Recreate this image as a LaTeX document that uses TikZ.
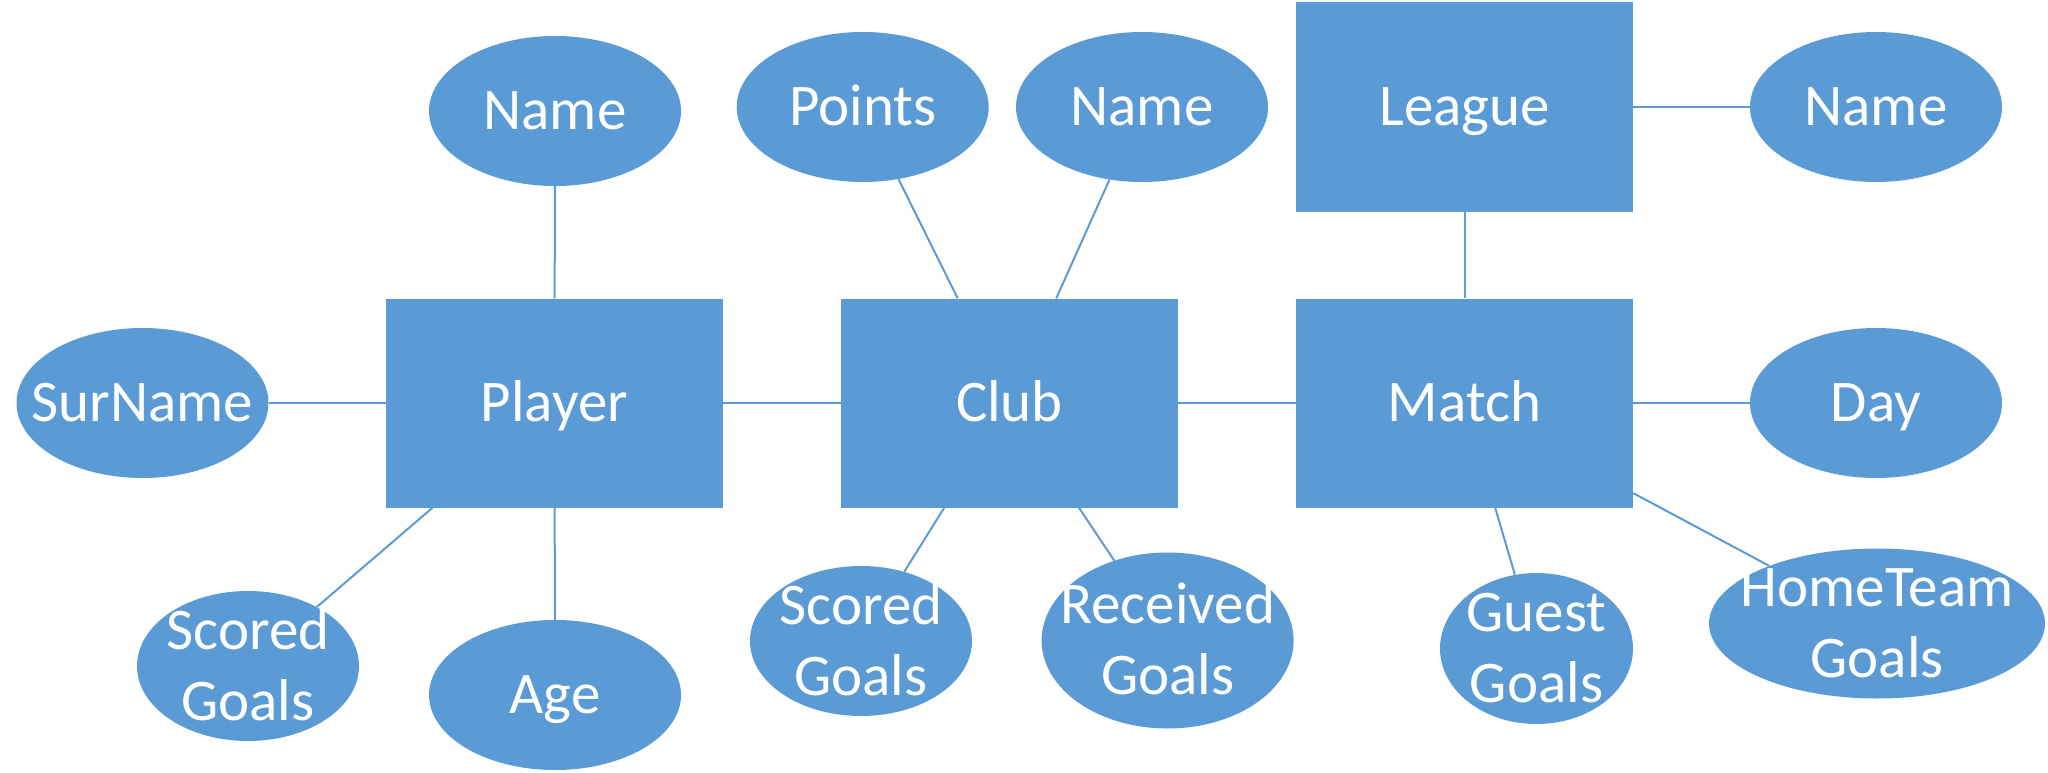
\documentclass[tikz,border=0pt]{standalone}
\usepackage{fontspec}
\setmainfont{Carlito}
\usetikzlibrary{shapes.geometric}
\definecolor{erblue}{HTML}{5B9BD5}
\newcommand\oneL[1]{\makebox[0pt]{\raisebox{-0.316em}[0pt][0pt]{#1}}}
\newcommand\twoL[2]{\makebox[0pt]{\raisebox{16.85pt}[0pt][0pt]{\begin{tabular}[t]{@{}c@{}}#1\\#2\end{tabular}}}}
\tikzset{
  ent/.style={rectangle, fill=erblue, inner sep=0pt, minimum width=337pt, minimum height=209pt},
  attr/.style={ellipse, fill=erblue, inner sep=0pt, minimum width=252pt, minimum height=150pt},
  conn/.style={draw=erblue, line width=2pt},
}
\begin{document}
\begin{tikzpicture}[x=1pt, y=-1pt, every node/.style={text=white, font=\fontsize{59pt}{71pt}\selectfont}]
\useasboundingbox (0,0) rectangle (2048,773);
% entities
\node[ent] (player) at (554.5,403) {\oneL{Player}};
\node[ent] (club)   at (1009.5,403) {\oneL{Club}};
\node[ent] (match)  at (1464.5,403) {\oneL{Match}};
\node[ent, minimum height=210pt] (league) at (1464.5,107) {\oneL{League}};
% attributes
\node[attr] (pname)   at (555,111)  {\oneL{Name}};
\node[attr] (surname) at (142.5,403) {\oneL{SurName}};
\node[attr, minimum width=222pt] (sg1) at (248,666) {\twoL{Scored}{Goals}};
\node[attr] (age)     at (555,695)  {\oneL{Age}};
\node[attr] (points)  at (862.7,107) {\oneL{Points}};
\node[attr] (cname)   at (1142,107) {\oneL{Name}};
\node[attr, minimum width=222pt] (sg2) at (861,641) {\twoL{Scored}{Goals}};
\node[attr, minimum height=176pt] (recv) at (1167.6,640.5) {\twoL{Received}{Goals}};
\node[attr] (lname)   at (1876,107) {\oneL{Name}};
\node[attr] (day)     at (1876,403) {\oneL{Day}};
\node[attr, minimum width=193pt, minimum height=151pt] (guest) at (1536.5,648.5) {\twoL{Guest}{Goals}};
\node[attr, minimum width=336pt] (home) at (1877,623.5) {\twoL{HomeTeam}{Goals}};
% connectors
\draw[conn] (pname) -- (player);
\draw[conn] (surname) -- (player);
\draw[conn] (age) -- (player);
\draw[conn] (sg1) -- (player);
\draw[conn] (player) -- (club);
\draw[conn] (points) -- (club);
\draw[conn] (cname) -- (club);
\draw[conn] (sg2) -- (club);
\draw[conn] (recv) -- (club);
\draw[conn] (club) -- (match);
\draw[conn] (league) -- (match);
\draw[conn] (league) -- (lname);
\draw[conn] (match) -- (day);
\draw[conn] (match) -- (guest);
\draw[conn] (match) -- (home);
\end{tikzpicture}
\end{document}
